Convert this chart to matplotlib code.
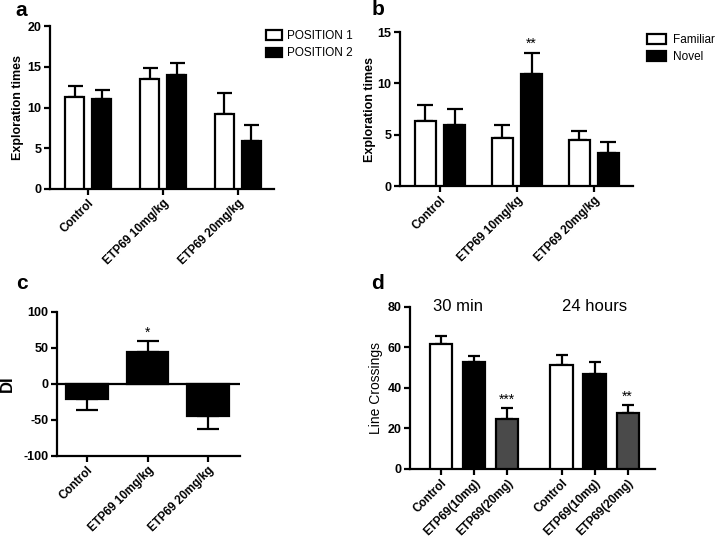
import numpy as np
import matplotlib
matplotlib.use('Agg')
import matplotlib.pyplot as plt
from matplotlib.patches import Patch

plt.rcParams['font.family'] = ['Liberation Sans', 'DejaVu Sans']
plt.rcParams['axes.unicode_minus'] = False

# panel a
a_groups = ['Control', 'ETP69 10mg/kg', 'ETP69 20mg/kg']
a_pos1 = [11.3, 13.5, 9.2]
a_pos1_err = [1.3, 1.4, 2.6]
a_pos2 = [11.0, 14.0, 5.9]
a_pos2_err = [1.2, 1.5, 1.9]

# panel b
b_groups = ['Control', 'ETP69 10mg/kg', 'ETP69 20mg/kg']
b_familiar = [6.3, 4.7, 4.5]
b_familiar_err = [1.6, 1.2, 0.9]
b_novel = [5.9, 10.9, 3.2]
b_novel_err = [1.6, 2.1, 1.1]

# panel c
c_groups = ['Control', 'ETP69 10mg/kg', 'ETP69 20mg/kg']
c_di = [-21, 45, -44]
c_di_err = [15, 14, 19]

# panel d
d_labels = ['Control', 'ETP69(10mg)', 'ETP69(20mg)']
d_30min = [61.5, 53.0, 24.5]
d_30min_err = [4.0, 3.0, 5.5]
d_24h = [51.5, 47.0, 27.5]
d_24h_err = [5.0, 6.0, 4.0]

LW = 1.6
TICKFONT = dict(fontsize=8.5, fontweight='bold')


def style_axes(ax):
    for s in ['top', 'right']:
        ax.spines[s].set_visible(False)
    for s in ['left', 'bottom']:
        ax.spines[s].set_linewidth(LW)
    ax.tick_params(width=LW, length=4, pad=2)
    for lab in ax.get_yticklabels():
        lab.set_fontsize(9)
        lab.set_fontweight('bold')


def bars(ax, x, vals, errs, color, width, cap, up=True):
    ax.bar(x, vals, width, color=color, edgecolor='black', linewidth=LW, zorder=3)
    e = np.array(errs)
    if up:
        yerr = [np.zeros_like(e), e]
    else:
        yerr = [e, np.zeros_like(e)]
    ax.errorbar(x, vals, yerr=yerr, fmt='none', ecolor='black',
                elinewidth=LW, capsize=cap, capthick=LW, zorder=2)


def xlabels(ax, x, labels):
    ax.set_xticks(x)
    ax.set_xticklabels(labels, rotation=45, ha='right', rotation_mode='anchor', **TICKFONT)


fig = plt.figure(figsize=(7.2, 5.42), dpi=100)

# ---- a ----
ax = fig.add_axes([0.0694, 0.6513, 0.311, 0.3007])
x = np.arange(3)
bars(ax, x - 0.18, a_pos1, a_pos1_err, 'white', 0.26, 5.4)
bars(ax, x + 0.18, a_pos2, a_pos2_err, 'black', 0.26, 5.4)
ax.set_xlim(-0.51, 2.48)
ax.set_ylim(0, 20)
ax.set_yticks([0, 5, 10, 15, 20])
xlabels(ax, x, a_groups)
ax.set_ylabel('Exploration times', fontsize=9, fontweight='bold')
ax.yaxis.set_label_coords(-0.116, 0.5)
style_axes(ax)
handles = [Patch(facecolor='white', edgecolor='black', linewidth=LW, label='POSITION 1'),
           Patch(facecolor='black', edgecolor='black', linewidth=LW, label='POSITION 2')]
ax.legend(handles=handles, loc='upper left', bbox_to_anchor=(0.965, 0.975), frameon=False,
          fontsize=8.5, handlelength=1.35, handleheight=0.85, handletextpad=0.4,
          labelspacing=0.45, borderaxespad=0, borderpad=0)
fig.text(0.022, 0.970, 'a', fontsize=15, fontweight='bold', va='baseline')

# ---- b ----
ax = fig.add_axes([0.5556, 0.6568, 0.3236, 0.2841])
bars(ax, x - 0.19, b_familiar, b_familiar_err, 'white', 0.27, 5.7)
bars(ax, x + 0.19, b_novel, b_novel_err, 'black', 0.27, 5.7)
ax.text(x[1] + 0.19, b_novel[1] + b_novel_err[1] + 0.2, '**', ha='center', va='bottom', fontsize=10)
ax.set_xlim(-0.52, 2.51)
ax.set_ylim(0, 15)
ax.set_yticks([0, 5, 10, 15])
xlabels(ax, x, b_groups)
ax.set_ylabel('Exploration times', fontsize=9, fontweight='bold')
ax.yaxis.set_label_coords(-0.103, 0.5)
style_axes(ax)
handles = [Patch(facecolor='white', edgecolor='black', linewidth=LW, label='Familiar'),
           Patch(facecolor='black', edgecolor='black', linewidth=LW, label='Novel')]
ax.legend(handles=handles, loc='upper left', bbox_to_anchor=(1.06, 0.985), frameon=False,
          fontsize=8.5, handlelength=1.6, handleheight=0.9, handletextpad=0.6,
          labelspacing=0.4, borderaxespad=0, borderpad=0)
fig.text(0.516, 0.972, 'b', fontsize=15, fontweight='bold', va='baseline')

# ---- c ----
ax = fig.add_axes([0.0792, 0.1587, 0.254, 0.2657])
for i in range(3):
    bars(ax, [x[i]], [c_di[i]], [c_di_err[i]], 'black', 0.69, 8, up=c_di[i] >= 0)
ax.text(x[1], c_di[1] + c_di_err[1] + 3, '*', ha='center', va='bottom', fontsize=10)
ax.set_xlim(-0.5, 2.53)
ax.set_ylim(-100, 100)
ax.set_yticks([-100, -50, 0, 50, 100])
xlabels(ax, x, c_groups)
ax.set_ylabel('DI', fontsize=12, fontweight='bold')
ax.yaxis.set_label_coords(-0.23, 0.5)
style_axes(ax)
ax.axhline(0, color='black', linewidth=LW, zorder=4)
fig.text(0.022, 0.467, 'c', fontsize=15, fontweight='bold', va='baseline')

# ---- d ----
ax = fig.add_axes([0.5694, 0.1347, 0.3403, 0.2989])
colors = ['white', 'black', '#4a4a4a']
xd1 = np.arange(3)
xd2 = np.arange(3) + 3.65
for i in range(3):
    bars(ax, [xd1[i]], [d_30min[i]], [d_30min_err[i]], colors[i], 0.67, 4.5)
    bars(ax, [xd2[i]], [d_24h[i]], [d_24h_err[i]], colors[i], 0.67, 4.5)
ax.text(xd1[2], d_30min[2] + d_30min_err[2] + 0.8, '***', ha='center', va='bottom', fontsize=10)
ax.text(xd2[2], d_24h[2] + d_24h_err[2] + 0.8, '**', ha='center', va='bottom', fontsize=10)
ax.text(xd1[1] - 0.5, 80, '30 min', ha='center', va='center', fontsize=12)
ax.text(xd2[1], 80, '24 hours', ha='center', va='center', fontsize=12)
ax.set_xlim(-0.94, 6.48)
ax.set_ylim(0, 80)
ax.set_yticks([0, 20, 40, 60, 80])
xlabels(ax, np.concatenate([xd1, xd2]), d_labels + d_labels)
ax.set_ylabel('Line Crossings', fontsize=10)
ax.yaxis.set_label_coords(-0.11, 0.5)
style_axes(ax)
fig.text(0.516, 0.467, 'd', fontsize=15, fontweight='bold', va='baseline')

fig.savefig('out.png', dpi=100)
